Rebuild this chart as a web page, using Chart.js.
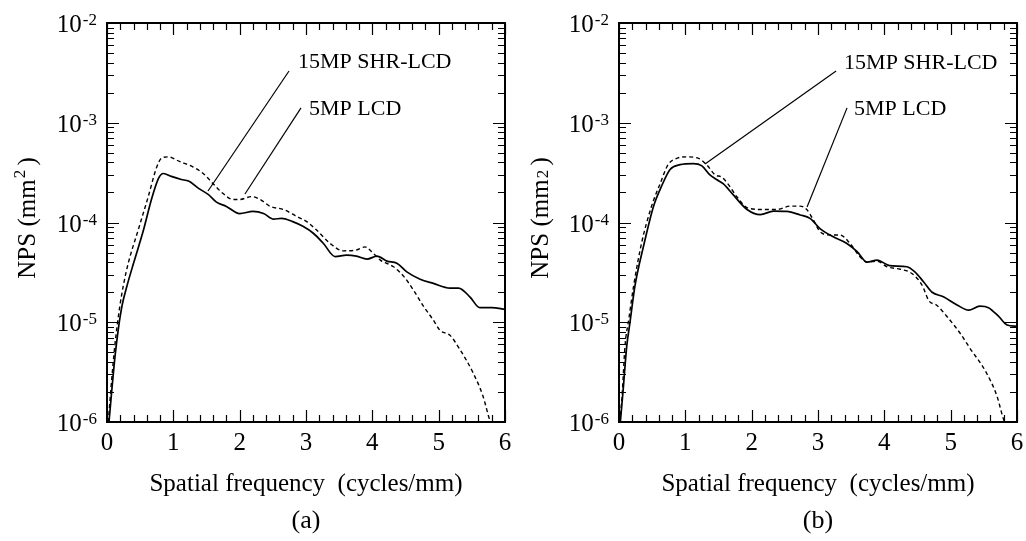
<!DOCTYPE html>
<html>
<head>
<meta charset="utf-8">
<script src="https://cdn.jsdelivr.net/npm/chart.js@4/dist/chart.umd.min.js"></script>
<style>
  body { margin: 0; background: #fff; }
  .panel { position: absolute; top: 0; width: 513px; height: 541px; }
</style>
</head>
<body>
<canvas id="chartA" class="panel" width="513" height="541" style="left:0"></canvas>
<canvas id="chartB" class="panel" width="513" height="541" style="left:513px"></canvas>
<script>
// ===== data =====
// (a)
const freqA_shr = [0.03, 0.07, 0.12, 0.17, 0.23, 0.30, 0.40, 0.55, 0.67, 0.78, 0.85, 0.97, 1.12, 1.23, 1.38, 1.53, 1.65, 1.80, 2.00, 2.20, 2.36, 2.51, 2.63, 2.80, 2.96, 3.11, 3.26, 3.44, 3.61, 3.76, 3.92, 4.07, 4.22, 4.37, 4.52, 4.72, 4.92, 5.17, 5.30, 5.47, 5.62, 5.80, 6.00];
const npsA_shr  = [1.0e-6, 2.0e-6, 4.5e-6, 8.5e-6, 1.5e-5, 2.3e-5, 3.9e-5, 8.4e-5, 1.7e-4, 2.8e-4, 3.1e-4, 2.9e-4, 2.7e-4, 2.6e-4, 2.2e-4, 1.9e-4, 1.6e-4, 1.45e-4, 1.23e-4, 1.29e-4, 1.23e-4, 1.08e-4, 1.10e-4, 1.02e-4, 9.1e-5, 7.8e-5, 6.2e-5, 4.55e-5, 4.7e-5, 4.6e-5, 4.3e-5, 4.6e-5, 4.1e-5, 3.9e-5, 3.2e-5, 2.7e-5, 2.45e-5, 2.2e-5, 2.2e-5, 1.8e-5, 1.4e-5, 1.4e-5, 1.35e-5];
const freqA_lcd = [0.02, 0.06, 0.12, 0.19, 0.25, 0.32, 0.47, 0.62, 0.75, 0.82, 0.92, 1.10, 1.30, 1.45, 1.60, 1.75, 1.90, 2.00, 2.18, 2.31, 2.46, 2.66, 2.86, 3.01, 3.16, 3.36, 3.56, 3.76, 3.89, 3.99, 4.12, 4.32, 4.47, 4.62, 4.77, 4.92, 5.02, 5.17, 5.30, 5.52, 5.67, 5.77, 5.82];
const npsA_lcd  = [1.0e-6, 2.2e-6, 6.0e-6, 1.4e-5, 2.4e-5, 3.9e-5, 8.4e-5, 1.8e-4, 3.6e-4, 4.4e-4, 4.55e-4, 4.07e-4, 3.6e-4, 3.1e-4, 2.45e-4, 1.95e-4, 1.7e-4, 1.7e-4, 1.82e-4, 1.7e-4, 1.45e-4, 1.35e-4, 1.15e-4, 1.02e-4, 8.4e-5, 6.2e-5, 5.2e-5, 5.3e-5, 5.7e-5, 5.1e-5, 4.2e-5, 3.6e-5, 2.9e-5, 2.1e-5, 1.45e-5, 1.05e-5, 8.3e-6, 7.4e-6, 5.6e-6, 3.1e-6, 1.8e-6, 1.05e-6, 0.9e-6];
// (b)
const freqB_shr = [0.02, 0.06, 0.116, 0.166, 0.24, 0.37, 0.52, 0.64, 0.77, 0.92, 1.12, 1.25, 1.37, 1.47, 1.57, 1.72, 1.93, 2.13, 2.33, 2.53, 2.73, 2.88, 3.03, 3.23, 3.43, 3.59, 3.74, 3.89, 4.08, 4.34, 4.46, 4.59, 4.72, 4.89, 5.09, 5.27, 5.44, 5.57, 5.72, 5.85, 6.00];
const npsB_shr  = [1.0e-6, 2.0e-6, 5.7e-6, 1.0e-5, 2.3e-5, 5.8e-5, 1.45e-4, 2.3e-4, 3.4e-4, 3.8e-4, 3.9e-4, 3.7e-4, 3.0e-4, 2.7e-4, 2.45e-4, 1.9e-4, 1.35e-4, 1.2e-4, 1.3e-4, 1.29e-4, 1.19e-4, 1.1e-4, 8.7e-5, 7.2e-5, 6.2e-5, 5.1e-5, 4.0e-5, 4.2e-5, 3.7e-5, 3.6e-5, 3.2e-5, 2.55e-5, 2.0e-5, 1.8e-5, 1.5e-5, 1.32e-5, 1.45e-5, 1.4e-5, 1.15e-5, 9.4e-6, 9.1e-6];
const freqB_lcd = [0.015, 0.05, 0.09, 0.15, 0.22, 0.34, 0.49, 0.62, 0.74, 0.87, 1.02, 1.20, 1.32, 1.45, 1.55, 1.65, 1.78, 1.95, 2.18, 2.38, 2.58, 2.73, 2.83, 2.93, 3.03, 3.18, 3.33, 3.48, 3.63, 3.74, 3.89, 4.04, 4.24, 4.41, 4.57, 4.67, 4.79, 4.94, 5.14, 5.29, 5.54, 5.70, 5.79, 5.84];
const npsB_lcd  = [1.0e-6, 2.0e-6, 5.7e-6, 1.1e-5, 2.3e-5, 6.2e-5, 1.45e-4, 2.45e-4, 3.8e-4, 4.4e-4, 4.55e-4, 4.4e-4, 3.8e-4, 3.0e-4, 2.85e-4, 2.4e-4, 1.8e-4, 1.39e-4, 1.35e-4, 1.35e-4, 1.46e-4, 1.46e-4, 1.35e-4, 1.06e-4, 8.1e-5, 7.5e-5, 7.5e-5, 6.2e-5, 4.55e-5, 4.0e-5, 4.1e-5, 3.6e-5, 3.4e-5, 3.1e-5, 2.35e-5, 1.65e-5, 1.48e-5, 1.15e-5, 7.8e-6, 5.5e-6, 3.1e-6, 1.8e-6, 1.1e-6, 0.9e-6];

const seriesNames = ['15MP SHR-LCD', '5MP LCD'];
const xTickLabels = [0, 1, 2, 3, 4, 5, 6];
const yTickExps = [-6, -5, -4, -3, -2];

const SERIF = '"Liberation Serif", "Times New Roman", serif';

function pts(xs, ys) {
  return xs.map((x, i) => ({ x: x, y: ys[i] }));
}

// frame, inward ticks, tick labels, titles and leader-line labels
const framePlugin = {
  id: 'frame',
  afterDraw(chart, args, opts) {
    const ctx = chart.ctx;
    const a = chart.chartArea;
    const xs = chart.scales.x, ys = chart.scales.y;
    ctx.save();
    ctx.strokeStyle = '#000';
    ctx.fillStyle = '#000';

    // ticks on all four sides
    ctx.lineWidth = 1.2;
    ctx.beginPath();
    for (let i = 0; i <= 30; i++) {
      const px = Math.round(xs.getPixelForValue(i / 5)) + 0.5;
      const len = i % 5 === 0 ? 12 : 7;
      ctx.moveTo(px, a.bottom); ctx.lineTo(px, a.bottom - len);
      ctx.moveTo(px, a.top); ctx.lineTo(px, a.top + len);
    }
    yTickExps.forEach(e => {
      for (let m = 1; m <= 9; m++) {
        const v = m * Math.pow(10, e);
        if (v > 1.0001e-2) break;
        const py = Math.round(ys.getPixelForValue(v)) + 0.5;
        const len = m === 1 ? 12 : 7;
        ctx.moveTo(a.left, py); ctx.lineTo(a.left + len, py);
        ctx.moveTo(a.right, py); ctx.lineTo(a.right - len, py);
      }
    });
    ctx.stroke();

    // frame
    ctx.lineWidth = 2;
    ctx.strokeRect(a.left, a.top, a.right - a.left, a.bottom - a.top);

    // y tick labels 10^n
    yTickExps.forEach(e => {
      const py = ys.getPixelForValue(Math.pow(10, e));
      ctx.textAlign = 'right';
      ctx.textBaseline = 'alphabetic';
      ctx.font = '17px ' + SERIF;
      const sup = '-' + Math.abs(e);
      const supW = ctx.measureText(sup).width;
      const right = a.left - 10;
      ctx.fillText(sup, right, py + 2);
      ctx.font = '25px ' + SERIF;
      ctx.fillText('10', right - supW - 1, py + 9);
    });

    // x tick labels
    ctx.font = '25px ' + SERIF;
    ctx.textAlign = 'center';
    xTickLabels.forEach(v => {
      ctx.fillText(String(v), xs.getPixelForValue(v), a.bottom + 28);
    });

    // x title and panel tag
    const cx = (a.left + a.right) / 2;
    ctx.fillText('Spatial frequency  (cycles/mm)', cx, a.bottom + 69);
    ctx.font = '26px ' + SERIF;
    ctx.fillText(opts.tag, cx, a.bottom + 106);

    // y title, rotated
    ctx.save();
    ctx.translate(35, (a.top + a.bottom) / 2 - 5);
    ctx.rotate(-Math.PI / 2);
    ctx.textAlign = 'left';
    const big = '25px ' + SERIF, small = '17px ' + SERIF;
    ctx.font = big;
    const w1 = ctx.measureText('NPS (mm').width;
    const w3 = ctx.measureText(' )').width;
    ctx.font = small;
    const w2 = ctx.measureText('2').width;
    let tx = -(w1 + w2 + w3) / 2;
    ctx.font = big;
    ctx.fillText('NPS (mm', tx, 0);
    tx += w1 + 1;
    ctx.font = small;
    ctx.fillText('2', tx, opts.supTitle ? -10 : 0);
    tx += w2 - 2;
    ctx.font = big;
    ctx.fillText(' )', tx, 0);
    ctx.restore();

    // leader lines with series names
    ctx.lineWidth = 1.2;
    ctx.font = '22px ' + SERIF;
    ctx.textAlign = 'left';
    opts.notes.forEach(n => {
      ctx.beginPath();
      ctx.moveTo(xs.getPixelForValue(n.from[0]), ys.getPixelForValue(n.from[1]));
      ctx.lineTo(xs.getPixelForValue(n.to[0]), ys.getPixelForValue(n.to[1]));
      ctx.stroke();
      ctx.fillText(n.text, xs.getPixelForValue(n.at[0]), ys.getPixelForValue(n.at[1]));
    });
    ctx.restore();
  }
};

function makeChart(id, shr, lcd, padLeft, opts) {
  return new Chart(document.getElementById(id), {
    type: 'scatter',
    data: {
      datasets: [{
        label: seriesNames[0],
        data: shr,
        showLine: true,
        borderColor: '#000',
        borderWidth: 1.7,
        pointRadius: 0,
        cubicInterpolationMode: 'monotone'
      }, {
        label: seriesNames[1],
        data: lcd,
        showLine: true,
        borderColor: '#000',
        borderWidth: 1.4,
        borderDash: [4, 3],
        pointRadius: 0,
        cubicInterpolationMode: 'monotone'
      }]
    },
    options: {
      responsive: false,
      animation: false,
      events: [],
      layout: { padding: { top: 23, left: padLeft, right: 513 - padLeft - 398, bottom: 119 } },
      plugins: {
        legend: { display: false },
        tooltip: { enabled: false },
        frame: opts
      },
      scales: {
        x: { type: 'linear', min: 0, max: 6, display: false },
        y: { type: 'logarithmic', min: 1e-6, max: 1e-2, display: false }
      }
    },
    plugins: [framePlugin]
  });
}

makeChart('chartA', pts(freqA_shr, npsA_shr), pts(freqA_lcd, npsA_lcd), 107, {
  tag: '(a)',
  supTitle: true,
  notes: [
    { text: seriesNames[0], at: [2.88, 3.54e-3], from: [2.744, 3.3e-3], to: [1.523, 2.07e-4] },
    { text: seriesNames[1], at: [3.045, 1.2e-3], from: [2.925, 1.41e-3], to: [2.08, 1.93e-4] }
  ]
});

makeChart('chartB', pts(freqB_shr, npsB_shr), pts(freqB_lcd, npsB_lcd), 106, {
  tag: '(b)',
  supTitle: false,
  notes: [
    { text: seriesNames[0], at: [3.393, 3.46e-3], from: [3.273, 3.3e-3], to: [1.297, 3.86e-4] },
    { text: seriesNames[1], at: [3.543, 1.2e-3], from: [3.438, 1.41e-3], to: [2.835, 1.43e-4] }
  ]
});
</script>
</body>
</html>
